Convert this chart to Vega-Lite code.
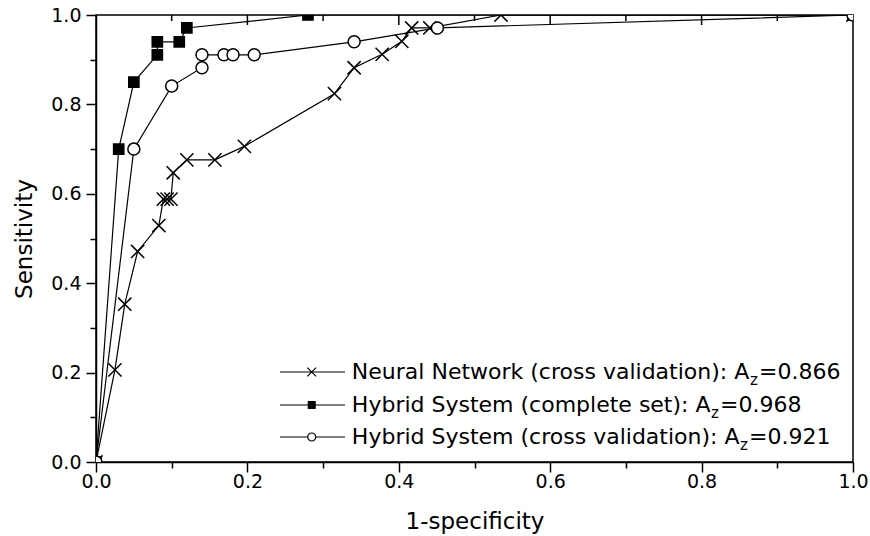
{
  "$schema": "https://vega.github.io/schema/vega-lite/v6.json",
  "width": 757,
  "height": 447,
  "autosize": {"type": "none"},
  "padding": {"left": 96, "top": 15, "right": 17, "bottom": 74},
  "background": "white",
  "config": {
    "font": "DejaVu Sans",
    "view": {"stroke": "black", "strokeWidth": 1.5},
    "axis": {
      "grid": false,
      "domainColor": "black",
      "domainWidth": 1.5,
      "tickColor": "black",
      "tickWidth": 1.5,
      "labelColor": "black",
      "labelFontSize": 19,
      "titleColor": "black",
      "titleFontSize": 23,
      "titleFontWeight": "normal",
      "labelFlush": false,
      "labelOverlap": false
    }
  },
  "datasets": {
    "roc": [
      {"series": "nn", "x": 0, "y": 0},
      {"series": "nn", "x": 0.025, "y": 0.206},
      {"series": "nn", "x": 0.038, "y": 0.353},
      {"series": "nn", "x": 0.055, "y": 0.471},
      {"series": "nn", "x": 0.083, "y": 0.529},
      {"series": "nn", "x": 0.089, "y": 0.588},
      {"series": "nn", "x": 0.094, "y": 0.588},
      {"series": "nn", "x": 0.099, "y": 0.588},
      {"series": "nn", "x": 0.102, "y": 0.647},
      {"series": "nn", "x": 0.120, "y": 0.676},
      {"series": "nn", "x": 0.157, "y": 0.676},
      {"series": "nn", "x": 0.196, "y": 0.706},
      {"series": "nn", "x": 0.315, "y": 0.824},
      {"series": "nn", "x": 0.341, "y": 0.882},
      {"series": "nn", "x": 0.378, "y": 0.912},
      {"series": "nn", "x": 0.404, "y": 0.941},
      {"series": "nn", "x": 0.417, "y": 0.971},
      {"series": "nn", "x": 0.441, "y": 0.971},
      {"series": "nn", "x": 0.535, "y": 1.0},
      {"series": "nn", "x": 1.0, "y": 1.0},
      {"series": "hc", "x": 0, "y": 0},
      {"series": "hc", "x": 0.030, "y": 0.700},
      {"series": "hc", "x": 0.050, "y": 0.850},
      {"series": "hc", "x": 0.081, "y": 0.911},
      {"series": "hc", "x": 0.081, "y": 0.940},
      {"series": "hc", "x": 0.110, "y": 0.940},
      {"series": "hc", "x": 0.120, "y": 0.971},
      {"series": "hc", "x": 0.280, "y": 1.0},
      {"series": "hc", "x": 1.0, "y": 1.0},
      {"series": "hcv", "x": 0, "y": 0},
      {"series": "hcv", "x": 0.050, "y": 0.700},
      {"series": "hcv", "x": 0.100, "y": 0.841},
      {"series": "hcv", "x": 0.140, "y": 0.882},
      {"series": "hcv", "x": 0.140, "y": 0.911},
      {"series": "hcv", "x": 0.169, "y": 0.911},
      {"series": "hcv", "x": 0.181, "y": 0.911},
      {"series": "hcv", "x": 0.209, "y": 0.911},
      {"series": "hcv", "x": 0.341, "y": 0.940},
      {"series": "hcv", "x": 0.451, "y": 0.971},
      {"series": "hcv", "x": 1.0, "y": 1.0}
    ],
    "legend": [
      {"series": "nn", "label": "Neural Network (cross validation): A", "value": "=0.866"},
      {"series": "hc", "label": "Hybrid System (complete set): A", "value": "=0.968"},
      {"series": "hcv", "label": "Hybrid System (cross validation): A", "value": "=0.921"}
    ],
    "topticks": [
      {"t": 0.1, "kind": "minor"},
      {"t": 0.2, "kind": "major"},
      {"t": 0.3, "kind": "minor"},
      {"t": 0.4, "kind": "major"},
      {"t": 0.5, "kind": "minor"},
      {"t": 0.6, "kind": "major"},
      {"t": 0.7, "kind": "minor"},
      {"t": 0.8, "kind": "major"},
      {"t": 0.9, "kind": "minor"}
    ]
  },
  "layer": [
    {
      "data": {"name": "roc"},
      "mark": {"type": "line", "color": "black", "strokeWidth": 1.2, "clip": true},
      "encoding": {
        "x": {
          "field": "x", "type": "quantitative",
          "scale": {"domain": [0, 1]},
          "axis": {
            "orient": "bottom",
            "values": [0, 0.1, 0.2, 0.3, 0.4, 0.5, 0.6, 0.7, 0.8, 0.9, 1.0],
            "labelExpr": "round(datum.value*10) % 2 == 0 ? format(datum.value, '.1f') : ''",
            "tickSize": {"condition": {"test": "round(datum.value*10) % 2 == 1", "value": 6}, "value": 10},
            "labelPadding": 0,
            "title": "1-specificity",
            "titlePadding": 19
          }
        },
        "y": {
          "field": "y", "type": "quantitative",
          "scale": {"domain": [0, 1]},
          "axis": {
            "orient": "left",
            "values": [0, 0.1, 0.2, 0.3, 0.4, 0.5, 0.6, 0.7, 0.8, 0.9, 1.0],
            "labelExpr": "round(datum.value*10) % 2 == 0 ? format(datum.value, '.1f') : ''",
            "tickSize": {"condition": {"test": "round(datum.value*10) % 2 == 1", "value": 6}, "value": 10},
            "labelPadding": 5,
            "title": "Sensitivity",
            "titlePadding": 14
          }
        },
        "detail": {"field": "series", "type": "nominal"},
        "order": [{"field": "x", "type": "quantitative"}, {"field": "y", "type": "quantitative"}]
      }
    },
    {
      "data": {"name": "topticks"},
      "mark": {"type": "tick", "color": "black", "opacity": 1, "thickness": 1.5, "orient": "vertical", "clip": true},
      "encoding": {
        "x": {"field": "t", "type": "quantitative"},
        "y": {"datum": 1.0, "type": "quantitative"},
        "size": {"field": "kind", "type": "nominal", "scale": {"domain": ["major", "minor"], "range": [20, 12]}, "legend": null}
      }
    },
    {
      "data": {"name": "roc"},
      "mark": {"type": "point", "filled": true, "stroke": "black", "strokeWidth": 1.5, "opacity": 1, "size": 144, "clip": true},
      "encoding": {
        "x": {"field": "x", "type": "quantitative"},
        "y": {"field": "y", "type": "quantitative"},
        "shape": {
          "field": "series", "type": "nominal",
          "scale": {"domain": ["nn", "hc", "hcv"], "range": ["M-1.1,-1.1L1.1,1.1M-1.1,1.1L1.1,-1.1", "M-0.85,-0.85H0.85V0.85H-0.85Z", "circle"]},
          "legend": null
        },
        "fill": {
          "field": "series", "type": "nominal",
          "scale": {"domain": ["nn", "hc", "hcv"], "range": ["transparent", "black", "white"]},
          "legend": null
        }
      }
    },
    {
      "data": {"name": "legend"},
      "transform": [{"filter": "datum.series == 'nn'"}],
      "encoding": {"y": {"datum": 0.2013, "type": "quantitative"}},
      "layer": [
        {"mark": {"type": "rule", "color": "black", "strokeWidth": 1.2},
         "encoding": {"x": {"datum": 0.243, "type": "quantitative"}, "x2": {"datum": 0.329}}},
        {"mark": {"type": "point", "filled": true, "stroke": "black", "strokeWidth": 1.2, "opacity": 1, "size": 64},
         "encoding": {"x": {"datum": 0.285, "type": "quantitative"},
                      "shape": {"field": "series", "type": "nominal", "legend": null},
                      "fill": {"field": "series", "type": "nominal", "legend": null}}},
        {"mark": {"type": "text", "align": "left", "baseline": "middle", "fontSize": 22, "color": "black"},
         "encoding": {"x": {"datum": 0.338, "type": "quantitative"}, "text": {"field": "label"}}},
        {"mark": {"type": "text", "align": "left", "baseline": "middle", "fontSize": 15, "dy": 8, "color": "black"},
         "encoding": {"x": {"datum": 0.8639, "type": "quantitative"}, "text": {"value": "z"}}},
        {"mark": {"type": "text", "align": "left", "baseline": "middle", "fontSize": 22, "color": "black"},
         "encoding": {"x": {"datum": 0.8758, "type": "quantitative"}, "text": {"field": "value"}}}
      ]
    },
    {
      "data": {"name": "legend"},
      "transform": [{"filter": "datum.series == 'hc'"}],
      "encoding": {"y": {"datum": 0.1275, "type": "quantitative"}},
      "layer": [
        {"mark": {"type": "rule", "color": "black", "strokeWidth": 1.2},
         "encoding": {"x": {"datum": 0.243, "type": "quantitative"}, "x2": {"datum": 0.329}}},
        {"mark": {"type": "point", "filled": true, "stroke": "black", "strokeWidth": 1.2, "opacity": 1, "size": 64},
         "encoding": {"x": {"datum": 0.285, "type": "quantitative"},
                      "shape": {"field": "series", "type": "nominal", "legend": null},
                      "fill": {"field": "series", "type": "nominal", "legend": null}}},
        {"mark": {"type": "text", "align": "left", "baseline": "middle", "fontSize": 22, "color": "black"},
         "encoding": {"x": {"datum": 0.338, "type": "quantitative"}, "text": {"field": "label"}}},
        {"mark": {"type": "text", "align": "left", "baseline": "middle", "fontSize": 15, "dy": 8, "color": "black"},
         "encoding": {"x": {"datum": 0.8124, "type": "quantitative"}, "text": {"value": "z"}}},
        {"mark": {"type": "text", "align": "left", "baseline": "middle", "fontSize": 22, "color": "black"},
         "encoding": {"x": {"datum": 0.8243, "type": "quantitative"}, "text": {"field": "value"}}}
      ]
    },
    {
      "data": {"name": "legend"},
      "transform": [{"filter": "datum.series == 'hcv'"}],
      "encoding": {"y": {"datum": 0.0559, "type": "quantitative"}},
      "layer": [
        {"mark": {"type": "rule", "color": "black", "strokeWidth": 1.2},
         "encoding": {"x": {"datum": 0.243, "type": "quantitative"}, "x2": {"datum": 0.329}}},
        {"mark": {"type": "point", "filled": true, "stroke": "black", "strokeWidth": 1.2, "opacity": 1, "size": 64},
         "encoding": {"x": {"datum": 0.285, "type": "quantitative"},
                      "shape": {"field": "series", "type": "nominal", "legend": null},
                      "fill": {"field": "series", "type": "nominal", "legend": null}}},
        {"mark": {"type": "text", "align": "left", "baseline": "middle", "fontSize": 22, "color": "black"},
         "encoding": {"x": {"datum": 0.338, "type": "quantitative"}, "text": {"field": "label"}}},
        {"mark": {"type": "text", "align": "left", "baseline": "middle", "fontSize": 15, "dy": 8, "color": "black"},
         "encoding": {"x": {"datum": 0.8507, "type": "quantitative"}, "text": {"value": "z"}}},
        {"mark": {"type": "text", "align": "left", "baseline": "middle", "fontSize": 22, "color": "black"},
         "encoding": {"x": {"datum": 0.8626, "type": "quantitative"}, "text": {"field": "value"}}}
      ]
    }
  ]
}
